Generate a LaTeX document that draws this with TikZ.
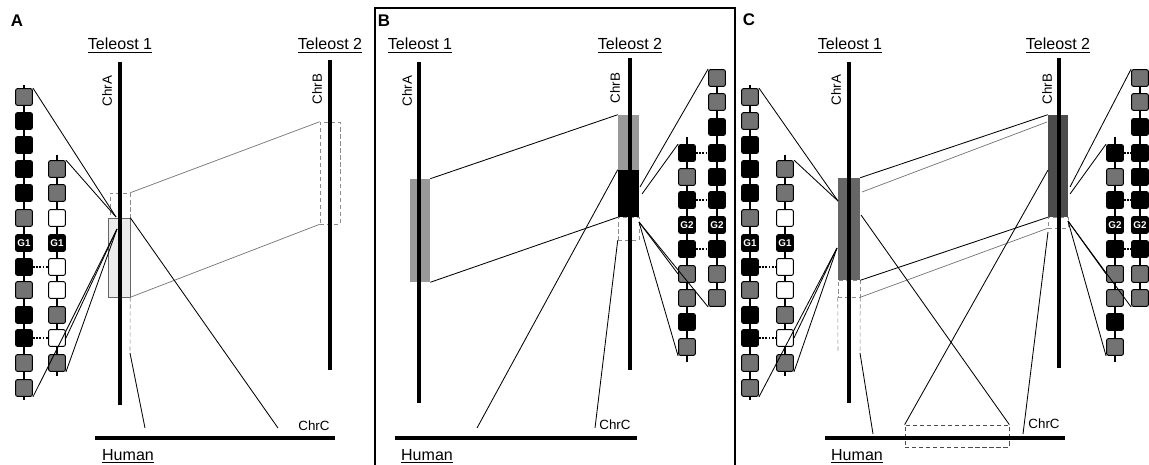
\documentclass[tikz,border=0pt]{standalone}
\usepackage{fontspec}
\setmainfont{Liberation Sans}
\usetikzlibrary{fit}
\colorlet{stip}{black!55}

\begin{document}
\begin{tikzpicture}[x=0.025cm, y=-0.025cm,
    chrom/.style={line width=3.2pt},
    human/.style={line width=2.8pt},
    link/.style={line width=0.6pt},
    faint/.style={line width=0.5pt, black!55},
    dashbox/.style={draw=black!45, densely dashed, line width=0.4pt},
    hl/.style={inner sep=0pt, fit={#1}},
    gene/.style={draw, rounded corners=1.5pt, minimum size=12pt, inner sep=0pt, line width=0.7pt, fill=#1},
    gname/.style={text=white, font=\bfseries\fontsize{7}{8}\selectfont},
    spine/.style={line width=1pt},
    pair/.style={line width=1.3pt, dash pattern=on 1.3pt off 1pt},
    panel/.style={font=\bfseries\fontsize{12}{14}\selectfont},
    species/.style={anchor=base, font=\fontsize{11.4}{13}\selectfont},
    chrlab/.style={font=\fontsize{9.5}{11}\selectfont},
    chrvert/.style={chrlab, rotate=90}]
\clip (0,0) rectangle (1149,465);
\node[hl={(375,8) (735,466)}, draw, line width=1.4pt] (frameB) {};

\node[panel] (labA) at (17,21) {A};
\node[panel] (labB) at (384,21) {B};
\node[panel] (labC) at (749,20) {C};
\foreach \n/\x/\k in {t1a/120/1, t2a/330/2, t1b/420/1, t2b/630/2, t1c/850/1, t2c/1058/2}
    \node[species] (\n) at (\x,50) {\underline{Teleost \k}};
\foreach \n/\x in {a/128, b/427, c/857}
    \node[species] (hu\n) at (\x,460) {\underline{Human}};
\foreach \n/\x/\y in {a/314/426, b/615/425, c/1044/424}
    \node[chrlab] (cc\n) at (\x,\y) {ChrC};
\foreach \n/\x/\y/\k in {aa/107/91/A, ba/317/89/B, ab/407/91/A, bb/615/88/B, ac/836/90/A, bc/1047/89/B}
    \node[chrvert] (lab\n) at (\x,\y) {Chr\k};

\node[hl={(110,193) (130,297)}, dashbox] (spanA) {};
\node[hl={(108,218) (130,297)}, draw=black!60, fill=black!8, line width=0.4pt] (boxA) {};
\node[hl={(320,122) (340,224)}, dashbox] (spanBA) {};
\node[hl={(410,179) (430,282)}, fill=black!40] (spanAB) {};
\node[hl={(618,115) (639,170)}, fill=black!40] (spanBB) {};
\node[hl={(618,170) (639,217)}, fill=black] (coreBB) {};
\node[hl={(618,217) (639,240)}, dashbox] (tailBB) {};
\node[hl={(838,178) (860,280)}, fill=black!60] (spanAC) {};
\node[hl={(838,280) (860,297)}, dashbox] (gapAC) {};
\node[hl={(1048,115) (1068,217)}, fill=black!70] (spanBC) {};
\node[hl={(1048,217) (1068,228)}, dashbox] (gapBC) {};
\node[hl={(905,425) (1009,447)}, draw=black!70, densely dashed, line width=0.5pt] (spanCC) {};

\foreach \n/\x/\a/\b in {Aa/120/62/405, Ba/330/60/370, Ab/419/62/403, Bb/630/58/370, Ac/849/62/403, Bc/1059/58/368}
    \draw[chrom] (\x,\a) coordinate (chr\n-t) -- (\x,\b) coordinate (chr\n-b);
\foreach \n/\l/\r in {a/95/335, b/395/637, c/825/1065}
    \draw[human] (\l,438) coordinate (hum\n-l) -- (\r,438) coordinate (hum\n-r);

\foreach \c/\x/\a/\b in {a1/24/85/400, a2/57/155/376, b1/687/137/362, b2/717/72/306, c1/750/85/400, c2/785/155/376, d1/1115/137/362, d2/1140/72/306}
    \draw[spine] (\x,\a) coordinate (\c-top) -- (\x,\b) coordinate (\c-end);
\foreach \y/\f in {97/stip,121/black,145/black,169/black,193/black,218/stip,267/black,290/stip,315/black,338/black,363/stip,388/stip}
    \node[gene=\f] (a1-\y) at (24,\y) {};
\foreach \y/\f in {97/stip,121/stip,145/black,169/black,193/black,218/stip,267/black,290/stip,315/black,338/black,363/stip,388/stip}
    \node[gene=\f] (c1-\y) at (750,\y) {};
\foreach \y/\f in {169/stip,193/stip,218/white,267/white,290/white,315/stip,338/white,363/stip} {
    \node[gene=\f] (a2-\y) at (57,\y) {};
    \node[gene=\f] (c2-\y) at (785,\y) {};
}
\foreach \y/\f in {153/black,177/stip,200/black,249/black,274/stip,298/stip,322/black,347/stip} {
    \node[gene=\f] (b1-\y) at (687,\y) {};
    \node[gene=\f] (d1-\y) at (1115,\y) {};
}
\foreach \y/\f in {78/stip,102/stip,127/black,153/black,177/black,200/black,249/black,274/stip,298/stip} {
    \node[gene=\f] (b2-\y) at (717,\y) {};
    \node[gene=\f] (d2-\y) at (1140,\y) {};
}
\foreach \c/\x in {a1/24, a2/57, c1/750, c2/785}
    \node[gene=black, gname] (\c-243) at (\x,243) {G1};
\foreach \c/\x in {b1/687, b2/717, d1/1115, d2/1140}
    \node[gene=black, gname] (\c-225) at (\x,225) {G2};
\foreach \y in {267,338} {
    \draw[pair] (a1-\y) -- (a2-\y);
    \draw[pair] (c1-\y) -- (c2-\y);
}
\foreach \y in {153,200,249} {
    \draw[pair] (b1-\y) -- (b2-\y);
    \draw[pair] (d1-\y) -- (d2-\y);
}

\coordinate (inAa1) at (116,217);
\coordinate (inAa2) at (117,229);
\coordinate (tailA) at (130,353);
\coordinate (hitA1) at (278,428);
\coordinate (hitA2) at (145,428);
\draw[link] (a1-97.north east) -- (inAa1);
\draw[link] (a2-169.north east) -- (inAa1);
\draw[link] (a1-388.south east) -- (inAa2);
\draw[link] (a2-338.east) -- (inAa2);
\draw[link] (a2-363.south east) -- (inAa2);
\draw[faint] (spanA.north east) -- (spanBA.north west);
\draw[faint] (spanA.south east) -- (spanBA.south west);
\draw[dashbox] (spanA.south east) -- (tailA);
\draw[link] (boxA.north east) -- (hitA1);
\draw[link] (tailA) -- (hitA2);

\coordinate (inBb1) at (640,187);
\coordinate (inBb2) at (642,194);
\coordinate (inBb3) at (639,222);
\coordinate (hitB1) at (477,428);
\coordinate (hitB2) at (595,428);
\draw[link] (spanAB.north east) -- (spanBB.north west);
\draw[link] (spanAB.south east) -- (coreBB.south west);
\draw[link] (hitB1) -- (coreBB.north west);
\draw[link] (tailBB.south west) -- (hitB2);
\draw[link] (b2-78.north west) -- (inBb1);
\draw[link] (b1-153.north west) -- (inBb2);
\draw[link] (inBb3) -- (b1-274.west);
\draw[link] (inBb3) -- (b2-298.south west);
\draw[link] (inBb3) -- (b1-347.south west);

\coordinate (inAc1) at (838,201);
\coordinate (inAc2) at (837,248);
\coordinate (offAc) at (862,192);
\coordinate (offBc) at (1047,122);
\coordinate (outAc) at (861,215);
\coordinate (outBc) at (1048,170);
\coordinate (tailAc1) at (838,352);
\coordinate (tailAc2) at (860,353);
\coordinate (tailBc) at (1048,232);
\coordinate (hitC1) at (873,434);
\coordinate (hitC2) at (1023,434);
\coordinate (inBc1) at (1070,187);
\coordinate (inBc2) at (1070,194);
\coordinate (inBc3) at (1068,221);
\draw[link] (c1-97.north east) -- (inAc1);
\draw[link] (c2-169.north east) -- (inAc1);
\draw[link] (c1-388.south east) -- (inAc2);
\draw[link] (c2-338.east) -- (inAc2);
\draw[link] (c2-363.south east) -- (inAc2);
\draw[link] (spanAC.north east) -- (spanBC.north west);
\draw[faint] (offAc) -- (offBc);
\draw[link] (spanAC.south east) -- (spanBC.south west);
\draw[faint] (gapAC.south east) -- (gapBC.south west);
\draw[dashbox] (gapAC.south west) -- (tailAc1);
\draw[dashbox] (gapAC.south east) -- (tailAc2);
\draw[link] (outAc) -- (spanCC.north east);
\draw[link] (outBc) -- (spanCC.north west);
\draw[link] (tailAc2) -- (hitC1);
\draw[link] (tailBc) -- (hitC2);
\draw[link] (d2-78.north west) -- (inBc1);
\draw[link] (d1-153.north west) -- (inBc2);
\draw[link] (inBc3) -- (d1-274.west);
\draw[link] (inBc3) -- (d2-298.south west);
\draw[link] (inBc3) -- (d1-347.south west);
\end{tikzpicture}
\end{document}
